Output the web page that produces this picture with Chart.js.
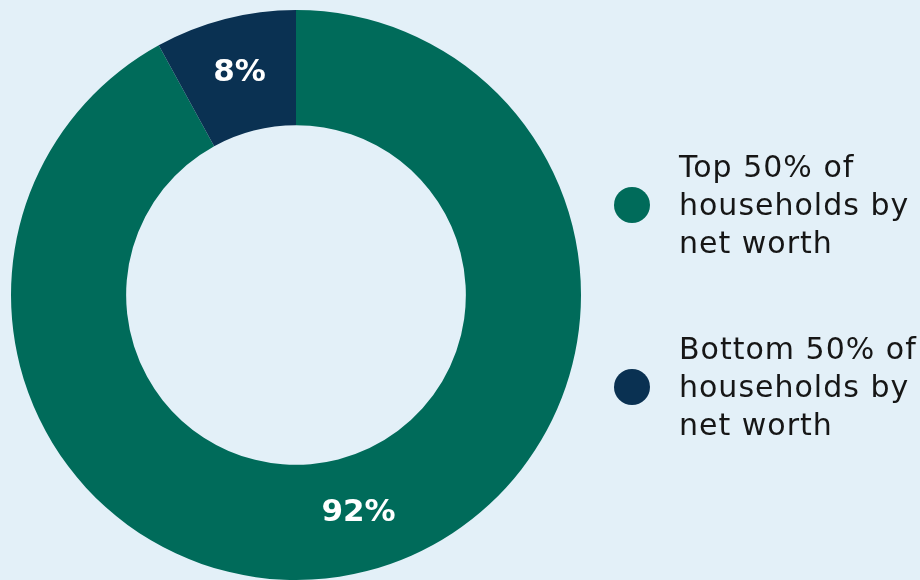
<!DOCTYPE html>
<html lang="en">
  <head>
    <meta charset="UTF-8" />
    <title>Household net worth share</title>
    <script src="https://cdn.jsdelivr.net/npm/chart.js"></script>
    <style>
      html, body { margin: 0; padding: 0; background: #e3f0f8; }
      .wrap { position: relative; width: 920px; height: 580px; }
    </style>
  </head>
  <body>
    <div class="wrap">
      <canvas id="share-chart" width="920" height="580"></canvas>
    </div>

    <script>
      // Share of total net worth held
      const groups = [
        ["Top 50% of", "households by", "net worth"],
        ["Bottom 50% of", "households by", "net worth"],
      ];
      const shares = [92, 8];
      const colors = ["#006b5a", "#0a3152"];

      const FONT = '"DejaVu Sans", sans-serif';

      // percentage text inside each slice
      const sliceLabels = {
        id: "sliceLabels",
        afterDatasetsDraw(chart) {
          const { ctx } = chart;
          const meta = chart.getDatasetMeta(0);
          ctx.save();
          ctx.fillStyle = "#ffffff";
          ctx.font = "bold 31px " + FONT;
          ctx.textAlign = "center";
          ctx.textBaseline = "middle";
          meta.data.forEach((arc, i) => {
            const p = arc.tooltipPosition();
            ctx.fillText(shares[i] + "%", p.x + (i === 0 ? 6 : 0), p.y - 2);
          });
          ctx.restore();
        },
      };

      // legend on the right with wrapped labels
      const sideLegend = {
        id: "sideLegend",
        afterDraw(chart) {
          const { ctx } = chart;
          const tops = [205, 387];
          ctx.save();
          ctx.font = "30px " + FONT;
          ctx.letterSpacing = "1px";
          ctx.textBaseline = "alphabetic";
          ctx.textAlign = "left";
          chart.data.labels.forEach((lines, i) => {
            const cy = tops[i];
            ctx.fillStyle = colors[i];
            ctx.beginPath();
            ctx.arc(632, cy, 18, 0, Math.PI * 2);
            ctx.fill();
            ctx.fillStyle = "#161616";
            lines.forEach((t, j) => {
              ctx.fillText(t, 679, cy - 28 + j * 38);
            });
          });
          ctx.restore();
        },
      };

      new Chart(document.getElementById("share-chart"), {
        type: "doughnut",
        data: {
          labels: groups,
          datasets: [
            {
              data: shares,
              backgroundColor: colors,
              borderWidth: 0,
            },
          ],
        },
        options: {
          responsive: false,
          animation: false,
          cutout: "59.6%",
          layout: { padding: { top: 10, bottom: 0, left: 11, right: 339 } },
          plugins: {
            legend: { display: false },
            tooltip: { enabled: false },
          },
        },
        plugins: [sliceLabels, sideLegend],
      });
    </script>
  </body>
</html>
